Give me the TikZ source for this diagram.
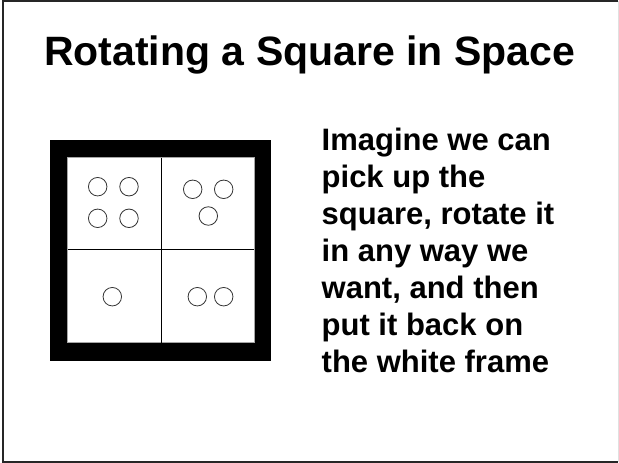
\documentclass[tikz,border=0pt]{standalone}
\usepackage{fontspec}
\setmainfont{Liberation Sans}
\begin{document}
\begin{tikzpicture}[x=1pt,y=-1pt,
  titletext/.style={font=\bfseries\fontsize{41}{48}\selectfont, inner sep=0pt, anchor=base west},
  bodytext/.style={font=\bfseries\fontsize{31}{37}\selectfont, inner sep=0pt, anchor=base west},
  dot/.style={draw=black!80, line width=0.8pt, circle, minimum size=18.5pt, inner sep=0pt},
  divider/.style={draw=black, line width=0.9pt}]
\useasboundingbox (0,0) rectangle (619,463);
% slide frame
\draw[line width=1.6pt, black!85] (618.2,1) -- (3,1) -- (3,461.7) -- (618.2,461.7);
\draw[line width=1pt, black!12] (618.2,1) -- (618.2,461.7);
% title
\node[titletext] (title) at (44,65) {Rotating a Square in Space};
% square with black border
\fill[black] (50,140) rectangle (270.7,360.7);
\fill[white] (67.7,157.7) rectangle (254.3,342.7);
\draw[black!35, line width=0.6pt] (67.7,157.7) rectangle (254.3,342.7);
\coordinate (vt) at (161.3,157.7);
\coordinate (vb) at (161.3,342.7);
\coordinate (hl) at (67.7,249.3);
\coordinate (hr) at (254.3,249.3);
\draw[divider] (vt) -- (vb);
\draw[divider] (hl) -- (hr);
% top-left: four
\node[dot] (a1) at (97.7,186.7) {};
\node[dot] (a2) at (129,186.7) {};
\node[dot] (a3) at (97.7,218.3) {};
\node[dot] (a4) at (129,218.3) {};
% top-right: three
\node[dot] (b1) at (192.7,189.3) {};
\node[dot] (b2) at (223.7,189.3) {};
\node[dot] (b3) at (208.3,216) {};
% bottom-left: one
\node[dot] (c1) at (112.3,296.7) {};
% bottom-right: two
\node[dot] (d1) at (197.3,296.7) {};
\node[dot] (d2) at (223.7,296.7) {};
% body text
\node[bodytext] (l1) at (321.5,150) {Imagine we can};
\node[bodytext] (l2) at (321.5,187) {pick up the};
\node[bodytext] (l3) at (321.5,224) {square, rotate it};
\node[bodytext] (l4) at (321.5,261) {in any way we};
\node[bodytext] (l5) at (321.5,298) {want, and then};
\node[bodytext] (l6) at (321.5,335) {put it back on};
\node[bodytext] (l7) at (321.5,372) {the white frame};
\end{tikzpicture}
\end{document}
